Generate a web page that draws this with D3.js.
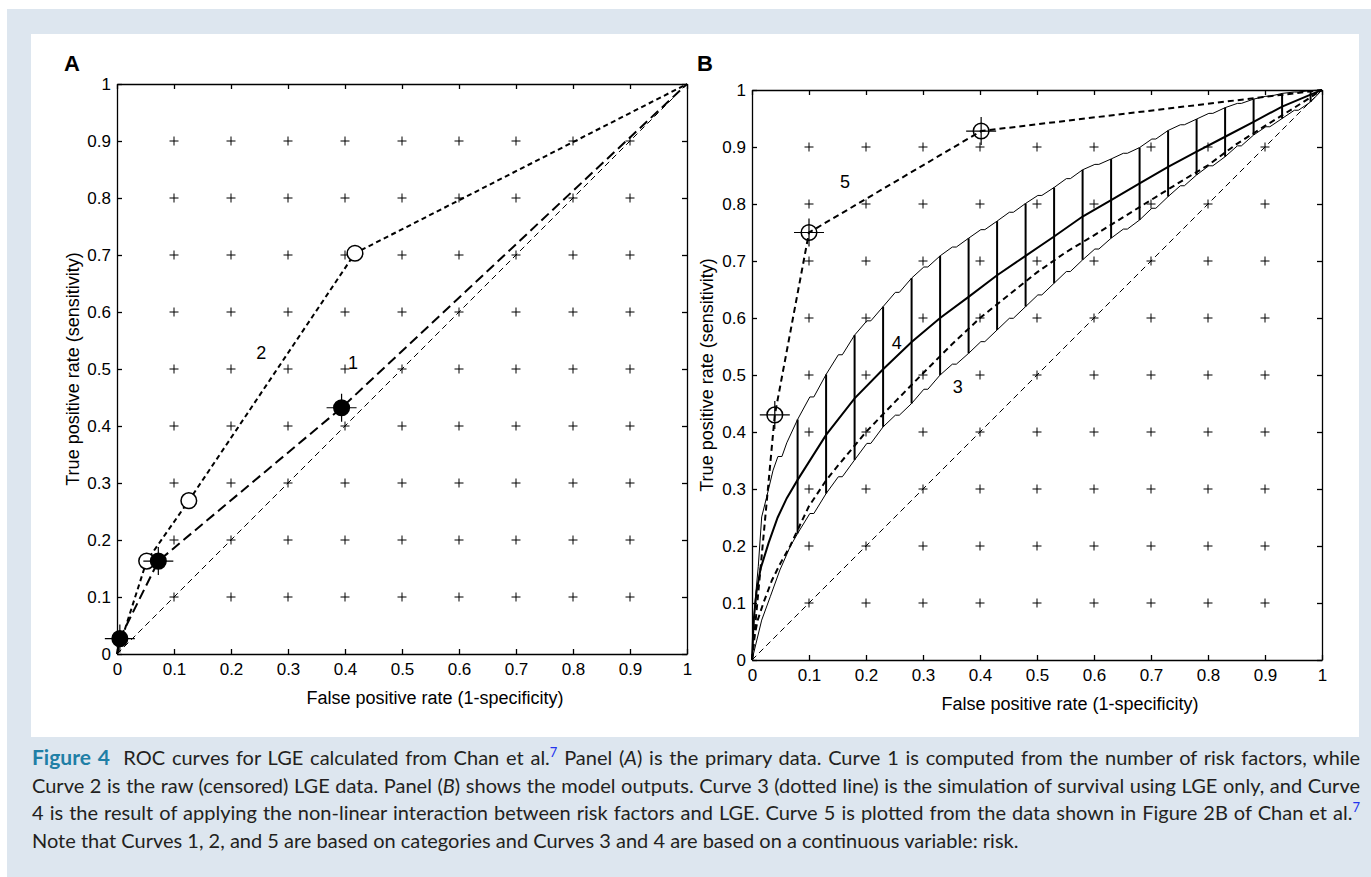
<!DOCTYPE html>
<html>
<head>
<meta charset="utf-8">
<script src="https://cdn.jsdelivr.net/npm/d3@7"></script>
<style>
  body { margin: 0; background: #fff; }
  #wrap { position: relative; width: 1371px; height: 877px; overflow: hidden; }
  svg { position: absolute; left: 0; top: 0; }
  .axis text { font-family: "Liberation Sans", Arial, sans-serif; font-size: 17px; fill: #000; }
  .axis path, .axis line { stroke: #000; stroke-width: 1.3; }
  .lbl { font-family: "Liberation Sans", Arial, sans-serif; font-size: 18px; fill: #000; }
  #caption { position: absolute; left: 32px; top: 743px; width: 1328px;
    font-family: Lato, "Open Sans", sans-serif; font-size: 20px; color: #231f20; line-height: 27.5px; }
  #caption div { white-space: nowrap; text-align: justify; text-align-last: justify; }
  #caption div.last { text-align-last: left; }
  #caption b { color: #1f7fa6; font-size: 21px; }
  #caption sup { color: #2233ee; font-size: 13px; line-height: 0; }
</style>
</head>
<body>
<div id="wrap"></div>
<script>
const tickValues = [0, 0.1, 0.2, 0.3, 0.4, 0.5, 0.6, 0.7, 0.8, 0.9, 1];
const tickLabels = ["0", "0.1", "0.2", "0.3", "0.4", "0.5", "0.6", "0.7", "0.8", "0.9", "1"];
const gridValues = [0.1, 0.2, 0.3, 0.4, 0.5, 0.6, 0.7, 0.8, 0.9];
const xTitle = "False positive rate (1-specificity)";
const yTitle = "True positive rate (sensitivity)";

// panel A
const diagonal = [[0, 0], [1, 1]];
const curve1 = [[0, 0], [0.005, 0.027], [0.0725, 0.163], [0.394, 0.432], [1, 1]];
const curve1Points = [[0.005, 0.027], [0.0725, 0.163], [0.394, 0.432]];
const curve2 = [[0, 0], [0.052, 0.163], [0.126, 0.269], [0.4175, 0.703], [1, 1]];
const curve2Points = [[0.052, 0.163], [0.126, 0.269], [0.4175, 0.703]];
const labelsA = [{ t: "2", x: 0.253, y: 0.528 }, { t: "1", x: 0.414, y: 0.511 }];

// panel B
const curve5 = [[0, 0], [0.04, 0.43], [0.1, 0.75], [0.402, 0.928], [1, 1]];
const curve5Points = [[0.04, 0.43], [0.1, 0.75], [0.402, 0.928]];
const curve4 = [[0, 0], [0.003, 0.07], [0.008, 0.12], [0.015, 0.16], [0.029, 0.205], [0.045, 0.25],
  [0.061, 0.284], [0.08, 0.316], [0.13, 0.395], [0.18, 0.459], [0.23, 0.51], [0.28, 0.558],
  [0.33, 0.6], [0.38, 0.637], [0.43, 0.675], [0.48, 0.709], [0.53, 0.743], [0.58, 0.778],
  [0.63, 0.807], [0.68, 0.836], [0.73, 0.865], [0.78, 0.892], [0.83, 0.918], [0.88, 0.944],
  [0.93, 0.971], [0.98, 0.992], [1, 1]];
const curve3 = [[0, 0], [0.005, 0.045], [0.01, 0.07], [0.02, 0.1], [0.035, 0.14], [0.05, 0.17],
  [0.067, 0.2], [0.08, 0.228], [0.1, 0.27], [0.13, 0.315], [0.15, 0.34], [0.2, 0.4],
  [0.25, 0.452], [0.3, 0.503], [0.35, 0.553], [0.4, 0.6], [0.45, 0.64], [0.5, 0.68],
  [0.55, 0.715], [0.6, 0.745], [0.65, 0.776], [0.7, 0.807], [0.75, 0.838], [0.8, 0.868],
  [0.85, 0.905], [0.9, 0.937], [0.95, 0.968], [1, 1]];
const barX = [0.08, 0.13, 0.18, 0.23, 0.28, 0.33, 0.38, 0.43, 0.48, 0.53, 0.58, 0.63, 0.68, 0.73, 0.78, 0.83, 0.88, 0.93, 0.98];
const barUpper = [0.422, 0.501, 0.570, 0.620, 0.670, 0.709, 0.740, 0.770, 0.801, 0.829, 0.860, 0.879, 0.899, 0.929, 0.949, 0.969, 0.984, 0.994, 0.999];
const barLower = [0.222, 0.292, 0.351, 0.409, 0.450, 0.500, 0.538, 0.579, 0.620, 0.661, 0.702, 0.740, 0.772, 0.813, 0.851, 0.883, 0.921, 0.950, 0.979];
const upperStart = [[0, 0], [0.005, 0.099], [0.011, 0.164], [0.017, 0.251], [0.026, 0.287], [0.037, 0.333], [0.061, 0.381]];
const lowerStart = [[0, 0], [0.017, 0.07], [0.032, 0.111], [0.049, 0.158], [0.067, 0.199]];
const labelsB = [{ t: "5", x: 0.163, y: 0.839 }, { t: "4", x: 0.254, y: 0.556 }, { t: "3", x: 0.361, y: 0.479 }];

const W = 1371, H = 877;
const wrap = d3.select("#wrap");
const svg = wrap.append("svg").attr("width", W).attr("height", H);

svg.append("rect").attr("x", 7).attr("y", 9).attr("width", W - 7).attr("height", H - 9).attr("fill", "#dde6ef");
svg.append("rect").attr("x", 31).attr("y", 34).attr("width", 1328).attr("height", 703).attr("fill", "#fff");

function drawPanel(opts) {
  const x = d3.scaleLinear().domain([0, 1]).range([opts.left, opts.left + 570]);
  const y = d3.scaleLinear().domain([0, 1]).range([opts.bottom, opts.bottom - 570]);
  const g = svg.append("g");
  const line = d3.line().x(d => x(d[0])).y(d => y(d[1]));

  g.append("text").attr("class", "lbl").attr("x", opts.letterX).attr("y", opts.letterY)
    .attr("font-weight", "bold").style("font-size", "22px").text(opts.letter);

  // grid crosses
  const cross = [];
  gridValues.forEach(a => gridValues.forEach(b => cross.push([a, b])));
  g.append("g").selectAll("path").data(cross).enter().append("path")
    .attr("d", d => `M${x(d[0]) - 4.5},${y(d[1])}h9M${x(d[0])},${y(d[1]) - 4.5}v9`)
    .attr("stroke", "#000").attr("stroke-width", 1);

  const fmt = (d, i) => tickLabels[i];
  g.append("g").attr("class", "axis").attr("transform", `translate(0,${y(0)})`)
    .call(d3.axisBottom(x).tickValues(tickValues).tickFormat(fmt).tickSizeInner(-5).tickSizeOuter(0).tickPadding(9));
  g.append("g").attr("class", "axis").attr("transform", `translate(0,${y(1)})`)
    .call(d3.axisTop(x).tickValues(tickValues).tickFormat("").tickSizeInner(-5).tickSizeOuter(0));
  g.append("g").attr("class", "axis").attr("transform", `translate(${x(0)},0)`)
    .call(d3.axisLeft(y).tickValues(tickValues).tickFormat(fmt).tickSizeInner(-5).tickSizeOuter(0).tickPadding(6));
  g.append("g").attr("class", "axis").attr("transform", `translate(${x(1)},0)`)
    .call(d3.axisRight(y).tickValues(tickValues).tickFormat("").tickSizeInner(-5).tickSizeOuter(0));

  g.append("text").attr("class", "lbl").attr("x", opts.xTitleX).attr("y", y(0) + 50)
    .attr("text-anchor", "middle").text(xTitle);
  g.append("text").attr("class", "lbl")
    .attr("transform", `translate(${opts.yTitleX},${(y(0) + y(1)) / 2}) rotate(-90)`)
    .attr("text-anchor", "middle").attr("dy", "0.35em").text(yTitle);

  return { g, x, y, line };
}

function path(p, data, width, dash) {
  p.g.append("path").attr("d", p.line(data)).attr("fill", "none").attr("stroke", "#000")
    .attr("stroke-width", width).attr("stroke-dasharray", dash);
}

// band edge: straight pieces with a small flat notch halfway, like the original staircase
function notchedEdge(p, data) {
  const pts = data.map(d => [p.x(d[0]), p.y(d[1])]);
  let s = `M${pts[0][0]},${pts[0][1]}`;
  for (let i = 1; i < pts.length; i++) {
    const [x0, y0] = pts[i - 1], [x1, y1] = pts[i];
    if (x1 - x0 > 12) {
      const xm = (x0 + x1) / 2, ym = (y0 + y1) / 2;
      s += `L${xm - 2},${ym}h4`;
    }
    s += `L${x1},${y1}`;
  }
  p.g.append("path").attr("d", s).attr("fill", "none").attr("stroke", "#000").attr("stroke-width", 1);
}

function markers(p, data, filled, withCross) {
  const m = p.g.append("g");
  if (withCross) {
    m.selectAll("path").data(data).enter().append("path")
      .attr("d", d => `M${p.x(d[0]) - 15},${p.y(d[1])}h30M${p.x(d[0])},${p.y(d[1]) - 14}v28`)
      .attr("stroke", "#000").attr("stroke-width", 1.2);
  }
  m.selectAll("circle").data(data).enter().append("circle")
    .attr("cx", d => p.x(d[0])).attr("cy", d => p.y(d[1])).attr("r", 7.8)
    .attr("fill", filled ? "#000" : (withCross ? "none" : "#fff"))
    .attr("stroke", "#000").attr("stroke-width", 1.5);
}

function labels(p, data) {
  p.g.selectAll("text.num").data(data).enter().append("text").attr("class", "lbl num")
    .attr("x", d => p.x(d.x)).attr("y", d => p.y(d.y)).attr("dy", "0.35em")
    .attr("text-anchor", "middle").text(d => d.t);
}

// Panel A
const pa = drawPanel({ left: 117, bottom: 654, letter: "A", letterX: 64, letterY: 71, xTitleX: 435, yTitleX: 73 });
path(pa, diagonal, 1, "6,4");
path(pa, curve2, 2, "5,3.5");
path(pa, curve1, 2, "10,5");
markers(pa, curve2Points, false, false);
markers(pa, curve1Points, true, true);
labels(pa, labelsA);

// Panel B
const pb = drawPanel({ left: 752, bottom: 660, letter: "B", letterX: 697, letterY: 71, xTitleX: 1070, yTitleX: 707 });
path(pb, diagonal, 1, "6,4");
const upper = upperStart.concat(barX.map((v, i) => [v, barUpper[i]]), [[1, 1]]);
const lower = lowerStart.concat(barX.map((v, i) => [v, barLower[i]]), [[1, 1]]);
notchedEdge(pb, upper);
notchedEdge(pb, lower);
pb.g.append("g").selectAll("line").data(barX).enter().append("line")
  .attr("x1", d => pb.x(d)).attr("x2", d => pb.x(d))
  .attr("y1", (d, i) => pb.y(barLower[i])).attr("y2", (d, i) => pb.y(barUpper[i]))
  .attr("stroke", "#000").attr("stroke-width", 2);
path(pb, curve4, 2, null);
path(pb, curve3, 2, "6,4");
path(pb, curve5, 2, "6,4");
markers(pb, curve5Points, false, true);
labels(pb, labelsB);

// caption
const cap = wrap.append("div").attr("id", "caption");
cap.append("div").html('<b>Figure 4</b>&nbsp; ROC curves for LGE calculated from Chan et al.<sup>7</sup> Panel (<i>A</i>) is the primary data. Curve 1 is computed from the number of risk factors, while');
cap.append("div").html('Curve 2 is the raw (censored) LGE data. Panel (<i>B</i>) shows the model outputs. Curve 3 (dotted line) is the simulation of survival using LGE only, and Curve');
cap.append("div").html('4 is the result of applying the non-linear interaction between risk factors and LGE. Curve 5 is plotted from the data shown in Figure 2B of Chan et al.<sup>7</sup>');
cap.append("div").attr("class", "last").html('Note that Curves 1, 2, and 5 are based on categories and Curves 3 and 4 are based on a continuous variable: risk.');
</script>
</body>
</html>
